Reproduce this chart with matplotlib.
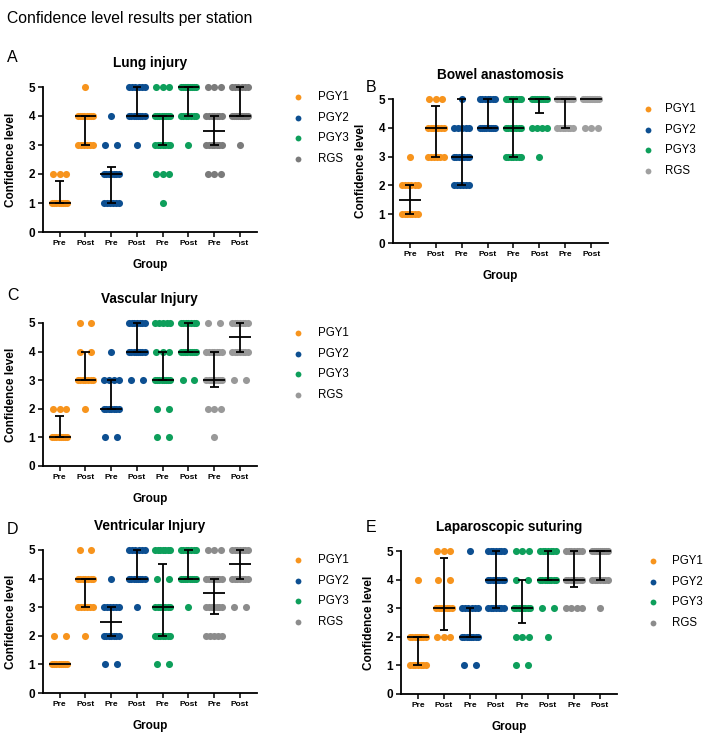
import matplotlib
matplotlib.use('Agg')
import matplotlib.pyplot as plt
import numpy as np

plt.rcParams['font.family'] = ['Liberation Sans', 'DejaVu Sans']

FIG_W, FIG_H = 708, 736

# ---------------- data ----------------
series = ['PGY1', 'PGY2', 'PGY3', 'RGS']
tick_labels = ['Pre', 'Post', 'Pre', 'Post', 'Pre', 'Post', 'Pre', 'Post']
levels = [1, 2, 3, 4, 5]

# number of respondents at confidence level 1..5 for each group (Pre/Post per series)
lung_counts = [[8, 3, 0, 0, 0], [0, 0, 6, 8, 1], [6, 7, 2, 1, 0], [0, 0, 1, 8, 6],
               [1, 3, 7, 8, 3], [0, 0, 1, 7, 9], [0, 3, 7, 7, 3], [0, 0, 1, 9, 6]]
lung_median = [1, 4, 2, 4, 4, 5, 3.5, 4]
lung_q1 = [1, 3, 1, 4, 3, 4, 3, 4]
lung_q3 = [1.75, 4, 2.25, 5, 4, 5, 4, 5]

bowel_counts = [[7, 6, 1, 0, 0], [0, 0, 6, 7, 3], [0, 6, 7, 5, 1], [0, 0, 0, 8, 7],
                [0, 0, 7, 7, 7], [0, 0, 1, 4, 9], [0, 0, 0, 7, 8], [0, 0, 0, 3, 10]]
bowel_median = [1.5, 4, 3, 4, 4, 5, 5, 5]
bowel_q1 = [1, 3, 2, 4, 3, 4.5, 4, 5]
bowel_q3 = [2, 4.75, 5, 5, 5, 5, 5, 5]

vascular_counts = [[8, 3, 0, 0, 0], [0, 1, 7, 2, 2], [2, 7, 4, 1, 0], [0, 0, 2, 8, 7],
                   [2, 2, 8, 3, 5], [0, 0, 2, 8, 7], [1, 3, 8, 7, 2], [0, 0, 2, 7, 7]]
vascular_median = [1, 3, 2, 4, 3, 4, 3, 4.5]
vascular_q1 = [1, 3, 2, 4, 3, 4, 2.75, 4]
vascular_q3 = [1.75, 4, 3, 5, 4, 5, 4, 5]

ventricular_counts = [[8, 2, 0, 0, 0], [0, 1, 6, 7, 2], [2, 7, 6, 1, 0], [0, 0, 1, 8, 6],
                      [2, 7, 7, 2, 7], [0, 0, 1, 8, 7], [0, 5, 7, 7, 3], [0, 0, 2, 7, 7]]
ventricular_median = [1, 4, 2.5, 4, 3, 4, 3.5, 4.5]
ventricular_q1 = [1, 3, 2, 4, 2, 4, 2.75, 4]
ventricular_q3 = [1, 4, 3, 5, 4.5, 5, 4, 5]

lap_counts = [[7, 8, 0, 1, 0], [0, 3, 7, 2, 3], [2, 8, 6, 0, 1], [0, 0, 7, 8, 7],
              [2, 3, 8, 2, 3], [0, 1, 2, 8, 7], [0, 0, 4, 8, 7], [0, 0, 1, 7, 9]]
lap_median = [2, 3, 2, 4, 3, 4, 4, 5]
lap_q1 = [1, 2.25, 2, 3, 2.5, 4, 3.75, 4]
lap_q3 = [2, 4.75, 3, 5, 4, 5, 5, 5]

# ---------------- style ----------------
orange, blue, green = '#F7941D', '#0D4F91', '#0E9F5B'

fig = plt.figure(figsize=(FIG_W / 100, FIG_H / 100), dpi=100)
fig.text(7 / FIG_W, 1 - 18 / FIG_H, 'Confidence level results per station',
         fontsize=11.3, va='center', ha='left')


def row_offsets(n):
    if n == 1:
        return np.array([0.0])
    if n == 2:
        return np.array([-0.23, 0.23])
    sp = min(0.25, 0.6 / (n - 1))
    return (np.arange(n) - (n - 1) / 2) * sp


def panel(box, letter, letter_xy, title, counts, med, q1, q3, gray, leg_dx):
    l, r, t, b = box
    ax = fig.add_axes([l / FIG_W, 1 - b / FIG_H, (r - l) / FIG_W, (b - t) / FIG_H])
    colors = [orange, blue, green, gray]
    xs = np.arange(len(tick_labels))
    for gi, x in enumerate(xs):
        c = colors[gi // 2]
        for lev, n in zip(levels, counts[gi]):
            if n == 0:
                continue
            off = row_offsets(n)
            ax.scatter(x + off, np.full(n, lev), s=26, color=c, linewidths=0,
                       zorder=2, clip_on=False)
    for gi, x in enumerate(xs):
        ax.hlines(med[gi], x - 0.42, x + 0.42, color='black', lw=1.3, zorder=3, clip_on=False)
        if q3[gi] > q1[gi]:
            ax.vlines(x, q1[gi], q3[gi], color='black', lw=1.3, zorder=3, clip_on=False)
            ax.hlines([q1[gi], q3[gi]], x - 0.17, x + 0.17, color='black', lw=1.3,
                      zorder=3, clip_on=False)
    ax.set_xlim(-0.65, 7.65)
    ax.set_ylim(0, 5)
    ax.set_xticks(xs)
    ax.set_xticklabels(tick_labels, fontsize=6, fontweight='bold')
    ax.set_yticks(range(6))
    ax.set_yticklabels([str(v) for v in range(6)], fontsize=8.5, fontweight='bold')
    ax.tick_params(axis='both', direction='out', length=3.5, width=1.1, color='black')
    ax.tick_params(axis='x', pad=2)
    ax.tick_params(axis='y', pad=2)
    for s in ['top', 'right']:
        ax.spines[s].set_visible(False)
    for s in ['left', 'bottom']:
        ax.spines[s].set_linewidth(1.3)
    wpx, hpx = r - l, b - t
    ax.set_ylabel('Confidence level', fontsize=8.5, fontweight='bold')
    ax.yaxis.set_label_coords(-26 / wpx, 0.5)
    ax.set_xlabel('Group', fontsize=8.5, fontweight='bold')
    ax.xaxis.set_label_coords(0.5, -27 / hpx)
    ax.text(0.5, 1 + 24 / hpx, title, transform=ax.transAxes, ha='center', va='center',
            fontsize=9.8, fontweight='bold')
    fig.text(letter_xy[0] / FIG_W, 1 - letter_xy[1] / FIG_H, letter, fontsize=11.5,
             ha='left', va='center')
    # legend
    dot_dx, txt_dx = leg_dx
    for i, (name, c) in enumerate(zip(series, colors)):
        yy = 1 - (10 + 20.7 * i) / hpx
        ax.plot([1 + dot_dx / wpx], [yy], marker='o', ms=4.2, color=c, mec='none',
                transform=ax.transAxes, clip_on=False)
        ax.text(1 + txt_dx / wpx, yy, name, transform=ax.transAxes, fontsize=8.3,
                ha='left', va='center')
    return ax


panel((43, 256.7, 87, 232), 'A', (7, 57), 'Lung injury',
      lung_counts, lung_median, lung_q1, lung_q3, '#7b7b7b', (41, 61))
panel((393, 608, 99, 243), 'B', (366, 88), 'Bowel anastomosis',
      bowel_counts, bowel_median, bowel_q1, bowel_q3, '#a0a0a0', (40, 57))
panel((43, 256.7, 323, 466), 'C', (7, 295), 'Vascular Injury',
      vascular_counts, vascular_median, vascular_q1, vascular_q3, '#999999', (41, 61))
panel((43, 256.7, 550, 693), 'D', (7, 529), 'Ventricular Injury',
      ventricular_counts, ventricular_median, ventricular_q1, ventricular_q3, '#8c8c8c',
      (41, 61))
panel((401, 617, 551, 694), 'E', (366, 528), 'Laparoscopic suturing',
      lap_counts, lap_median, lap_q1, lap_q3, '#8c8c8c', (36, 55))

fig.savefig('out.png', dpi=100)
